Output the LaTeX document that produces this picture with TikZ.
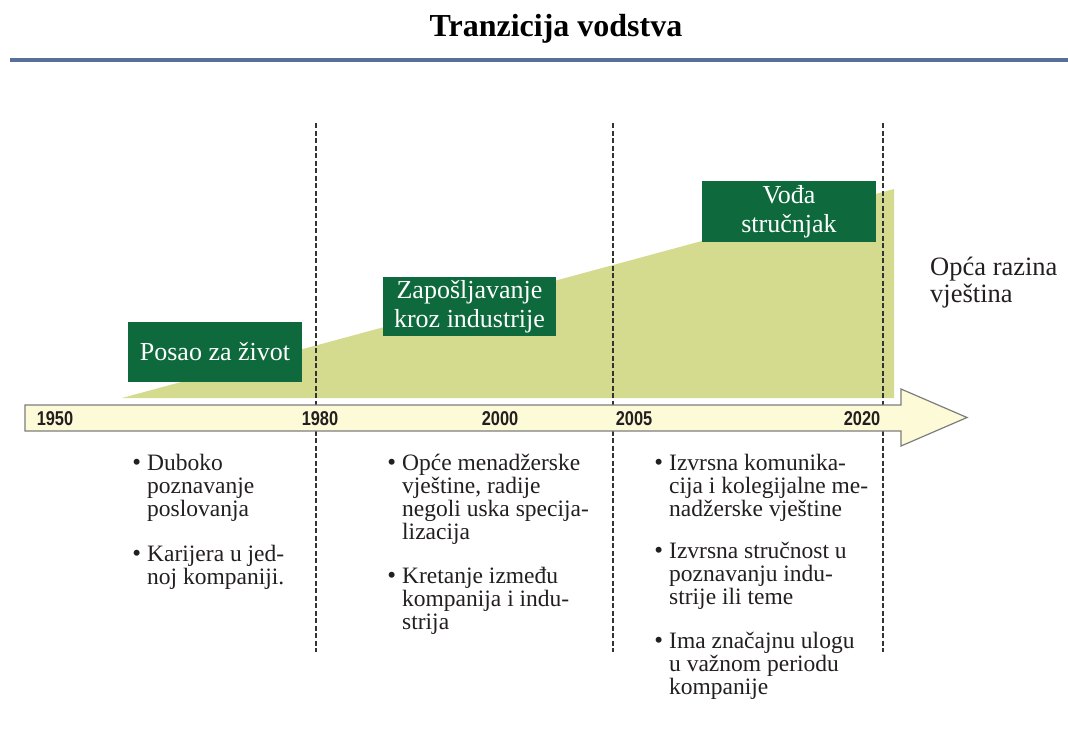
\documentclass[tikz,border=0pt]{standalone}
\usepackage{graphicx}
\usepackage{fontspec}
\setmainfont{Liberation Serif}
\newfontfamily\yearfont{Liberation Sans}
\definecolor{boxgreen}{RGB}{14,106,60}
\definecolor{areagreen}{RGB}{212,219,143}
\definecolor{arrowfill}{RGB}{253,251,215}
\definecolor{arrowedge}{RGB}{125,125,125}
\definecolor{rulecol}{RGB}{88,110,155}
\definecolor{textdark}{RGB}{35,31,32}
\newcommand{\itembul}{\llap{\raisebox{-0.5pt}{\fontsize{25}{25}\selectfont\textbullet}\hspace{6pt}}}
\tikzset{
  gbox/.style={fill=boxgreen, text=white, align=center, inner sep=0pt,
    font=\fontsize{26}{28.5}\selectfont},
  yearlabel/.style={font=\yearfont\bfseries\fontsize{20}{20}\selectfont, text=textdark, inner sep=0pt},
  itemtext/.style={anchor=north west, align=left, inner sep=0pt, text=textdark,
    font=\fontsize{23.5}{23.2}\selectfont},
  divline/.style={draw=black!80, line width=1.4pt, dash pattern=on 5pt off 2.5pt},
}
\begin{document}
\begin{tikzpicture}[x=1pt,y=-1pt]
\useasboundingbox (0,0) rectangle (1068,729);
\fill[white] (0,0) rectangle (1068,729);

% title and rule
\node[font=\bfseries\fontsize{32}{33}\selectfont, anchor=base, text=black, inner sep=0pt] (title) at (556,36) {Tranzicija vodstva};
\coordinate (rl) at (10,59.5);
\coordinate (rr) at (1068,59.5);
\draw[rulecol, line width=4pt] (rl) -- (rr);

% growing skill area
\fill[areagreen] (122,398) -- (894,189) -- (894,398) -- cycle;

% dashed dividers
\coordinate (d1t) at (316,123); \coordinate (d1b) at (316,652);
\coordinate (d2t) at (613,123); \coordinate (d2b) at (613,652);
\coordinate (d3t) at (883,123); \coordinate (d3b) at (883,652);
\draw[divline] (d1t) -- (d1b);
\draw[divline] (d2t) -- (d2b);
\draw[divline] (d3t) -- (d3b);

% timeline arrow
\filldraw[fill=arrowfill, draw=arrowedge, line width=1.2pt, line join=miter]
  (25,405) -- (901,405) -- (901,389) -- (967,417.5) -- (901,446) -- (901,431) -- (25,431) -- cycle;

% years
\node[yearlabel] (y1950) at (55,419) {\scalebox{0.82}[1]{1950}};
\node[yearlabel] (y1980) at (320,419) {\scalebox{0.82}[1]{1980}};
\node[yearlabel] (y2000) at (500,419) {\scalebox{0.82}[1]{2000}};
\node[yearlabel] (y2005) at (634,419) {\scalebox{0.82}[1]{2005}};
\node[yearlabel] (y2020) at (862,419) {\scalebox{0.82}[1]{2020}};

% green boxes
\node[gbox, minimum width=174pt, minimum height=60pt] (b1) at (215,352) {Posao za život};
\node[gbox, minimum width=173pt, minimum height=59pt] (b2) at (469.5,306.5) {Zapošljavanje\\kroz industrije};
\node[gbox, minimum width=174pt, minimum height=61pt] (b3) at (789,211.5) {Vođa\\stručnjak};

% right label
\node[anchor=north west, align=left, inner sep=0pt, text=textdark, font=\fontsize{26.5}{27}\selectfont] (skill) at (930,255) {\rule{0pt}{20pt}Opća razina\\vještina};

% bullet lists
\node[itemtext] (c1a) at (147,453) {\itembul\rule{0pt}{17pt}Duboko\\poznavanje\\poslovanja};
\node[itemtext] (c1b) at (147,544) {\itembul\rule{0pt}{17pt}Karijera u jed-\\noj kompaniji.};

\node[itemtext] (c2a) at (402,453) {\itembul\rule{0pt}{17pt}Opće menadžerske\\vještine, radije\\negoli uska specija-\\lizacija};
\node[itemtext] (c2b) at (402,566) {\itembul\rule{0pt}{17pt}Kretanje između\\kompanija i indu-\\strija};

\node[itemtext] (c3a) at (669,453) {\itembul\rule{0pt}{17pt}Izvrsna komunika-\\cija i kolegijalne me-\\nadžerske vještine};
\node[itemtext] (c3b) at (669,541) {\itembul\rule{0pt}{17pt}Izvrsna stručnost u\\poznavanju indu-\\strije ili teme};
\node[itemtext] (c3c) at (669,631) {\itembul\rule{0pt}{17pt}Ima značajnu ulogu\\u važnom periodu\\kompanije};
\end{tikzpicture}
\end{document}
